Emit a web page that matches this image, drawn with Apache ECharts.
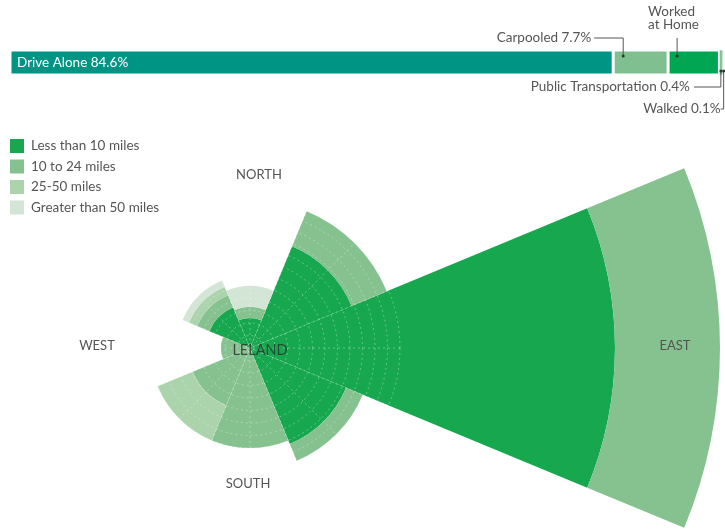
<!DOCTYPE html>
<html>
<head>
<meta charset="utf-8">
<script src="https://cdn.jsdelivr.net/npm/echarts/dist/echarts.min.js"></script>
<style>
  html, body { margin: 0; padding: 0; background: #fff; }
  #main { width: 725px; height: 529px; }
</style>
</head>
<body>
<div id="main"></div>
<script>
// commute mode shares (top bar)
const modeNames = ['Drive Alone', 'Carpooled', 'Worked at Home', 'Public Transportation', 'Walked'];
const modeShares = [84.6, 7.7, 7.2, 0.4, 0.1];
const modeColors = ['#009485', '#80bf90', '#00a651', '#80bf90', '#00a651'];

// commute direction / distance (polar chart), order: E, NE, N, NW, W, SW, S, SE
const directions = ['EAST', 'NORTHEAST', 'NORTH', 'NORTHWEST', 'WEST', 'SOUTHWEST', 'SOUTH', 'SOUTHEAST'];
const distNames = ['Less than 10 miles', '10 to 24 miles', '25-50 miles', 'Greater than 50 miles'];
const distColors = ['#17a84f', '#86c28f', '#abd3ac', '#d3e5d4'];
const lessThan10 = [365, 110, 30, 44, 0, 0, 0, 104];
const from10to24 = [105, 38, 11, 13, 29, 62, 100, 18];
const from25to50 = [0, 0, 0, 9, 0, 38, 0, 0];
const over50 = [0, 0, 21, 7, 0, 0, 0, 0];
const distValues = [lessThan10, from10to24, from25to50, over50];

const FONT = 'Lato';
const TXT = '#555';

const chart = echarts.init(document.getElementById('main'));

let series = [];
modeNames.forEach((name, i) => {
  series.push({
    name: name,
    type: 'bar',
    stack: 'mode',
    xAxisIndex: 0,
    yAxisIndex: 0,
    barWidth: 25,
    silent: true,
    data: [modeShares[i]],
    itemStyle: {
      color: modeColors[i],
      borderColor: '#fff',
      borderWidth: i < 3 ? 1.5 : 0.3
    },
    label: {
      show: i == 0,
      position: 'insideLeft',
      distance: 7,
      color: '#fff',
      fontFamily: FONT,
      fontSize: 13.5,
      formatter: p => p.seriesName + ' ' + p.value + '%'
    }
  });
});
distNames.forEach((name, i) => {
  series.push({
    name: name,
    type: 'bar',
    coordinateSystem: 'polar',
    polarIndex: 0,
    stack: 'dist',
    barCategoryGap: '0%',
    data: distValues[i],
    itemStyle: { color: distColors[i] }
  });
});

const gridLine = { color: 'rgba(255,255,255,0.32)', width: 1, type: [2, 3] };

chart.setOption({
  backgroundColor: '#fff',
  animation: false,
  textStyle: { fontFamily: FONT },
  legend: {
    data: distNames,
    orient: 'vertical',
    left: 10,
    top: 139,
    padding: 0,
    icon: 'rect',
    itemWidth: 14,
    itemHeight: 14,
    itemGap: 6.5,
    textStyle: { color: TXT, fontSize: 13.5, fontFamily: FONT, padding: [0, 0, 0, 2] }
  },
  grid: { left: 10, top: 50, width: 713, height: 25 },
  xAxis: { type: 'value', min: 0, max: 100, show: false },
  yAxis: { type: 'category', data: ['mode'], show: false },
  polar: [
    { center: [250, 348], radius: 470 },
    { center: [250, 348], radius: 150 }
  ],
  angleAxis: [
    {
      polarIndex: 0,
      type: 'category',
      data: directions,
      startAngle: -22.5,
      clockwise: false,
      axisLine: { show: false },
      axisTick: { show: false },
      axisLabel: { show: false },
      splitLine: { show: false }
    },
    {
      // dashed spokes drawn on top of the bars
      polarIndex: 1,
      type: 'value',
      min: 0,
      max: 360,
      interval: 22.5,
      startAngle: 0,
      z: 10,
      axisLine: { show: false },
      axisTick: { show: false },
      axisLabel: { show: false },
      splitLine: { show: true, lineStyle: gridLine }
    }
  ],
  radiusAxis: [
    {
      polarIndex: 0,
      type: 'value',
      min: 0,
      max: 470,
      axisLine: { show: false },
      axisTick: { show: false },
      axisLabel: { show: false },
      splitLine: { show: false }
    },
    {
      polarIndex: 1,
      type: 'value',
      min: 0,
      max: 12,
      interval: 1,
      z: 10,
      axisLine: { show: false },
      axisTick: { show: false },
      axisLabel: { show: false },
      splitLine: { show: true, lineStyle: gridLine }
    }
  ],
  series: series
});

// leader lines for the small segments of the top bar
function px(v) {
  return chart.convertToPixel({ gridIndex: 0 }, [v, 0])[0];
}
let cum = [];
let s = 0;
modeShares.forEach(v => { cum.push(s); s += v; });

const lineStyle = { stroke: TXT, lineWidth: 1, fill: null };
const txtStyle = { fill: TXT, fontFamily: FONT, fontSize: 13.5, textVerticalAlign: 'middle' };
let g = [];
function leader(points, dot) {
  g.push({ type: 'polyline', z: 100, shape: { points: points }, style: lineStyle });
  g.push({ type: 'circle', z: 100, shape: { cx: dot[0], cy: dot[1], r: 1.5 }, style: { fill: '#333' } });
}
function label(text, x, y, align) {
  g.push({ type: 'text', z: 100, x: x, y: y, style: Object.assign({ text: text, textAlign: align }, txtStyle) });
}

let xc = px(cum[1]) + 10;
leader([[xc - 29, 38], [xc, 38], [xc, 56]], [xc, 56]);
label('Carpooled ' + modeShares[1] + '%', xc - 32, 38, 'right');

let xw = px(cum[2]) + 9;
leader([[xw, 38], [xw, 56]], [xw, 56]);
label('Worked', xw - 29, 12, 'left');
label('at Home', xw - 29, 25, 'left');

let xp = px(cum[3] + modeShares[3] / 2);
leader([[xp - 27, 87], [xp, 87], [xp, 71]], [xp, 71]);
label('Public Transportation ' + modeShares[3] + '%', xp - 31, 87, 'right');

let xk = px(cum[4] + modeShares[4] / 2) + 1;
leader([[xk - 3, 109], [xk, 109], [xk, 71]], [xk, 71]);
label('Walked ' + modeShares[4] + '%', xk - 3, 109, 'right');

// compass labels
const dirStyle = { fill: TXT, fontFamily: FONT, fontSize: 13, textAlign: 'center', textVerticalAlign: 'middle' };
[['NORTH', 259, 175], ['WEST', 97, 346], ['SOUTH', 248, 484], ['EAST', 675, 346]].forEach(d => {
  g.push({ type: 'text', z: 100, x: d[1], y: d[2], style: Object.assign({ text: d[0] }, dirStyle) });
});
g.push({ type: 'text', z: 100, x: 260, y: 350, style: { text: 'LELAND', fill: 'rgba(40,50,45,0.8)', fontFamily: FONT, fontSize: 14.5, textAlign: 'center', textVerticalAlign: 'middle' } });

chart.setOption({ graphic: g });

window.addEventListener('resize', () => {
  chart.resize();
});
</script>
</body>
</html>
